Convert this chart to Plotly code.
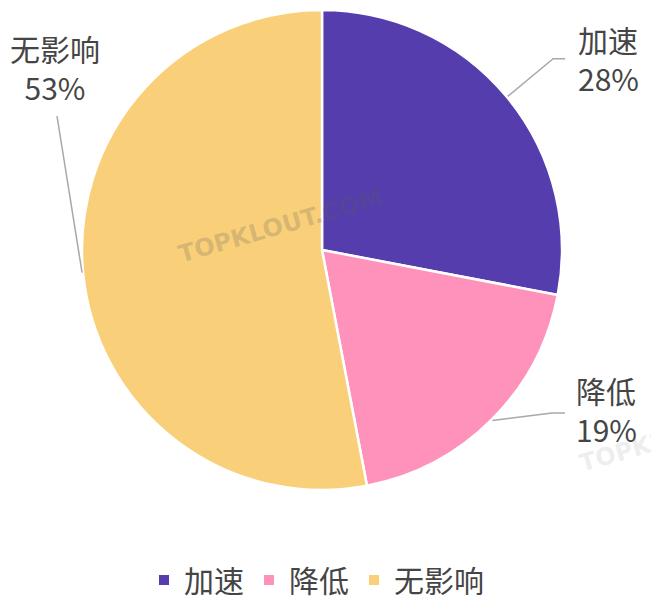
import math
import plotly.graph_objects as go

# ---- data ----
categories = ["加速", "降低", "无影响"]
values = [28, 19, 53]
colors = ["#553DAD", "#FF92BB", "#F9D079"]

# ---- layout constants (pixels) ----
W, H = 651, 596
CX, CY, R = 322, 250, 240
FONT = "Noto Sans CJK SC, Noto Sans, sans-serif"
TXT = "#454545"

def px(x):
    return x / W

def py(y):
    return 1 - y / H

fig = go.Figure()
fig.add_trace(go.Pie(
    labels=categories,
    values=values,
    marker=dict(colors=colors, line=dict(color="white", width=2.5)),
    sort=False,
    direction="clockwise",
    rotation=0,
    textinfo="none",
    hoverinfo="label+percent",
    domain=dict(x=[px(CX - R), px(CX + R)], y=[py(CY + R), py(CY - R)]),
))

# label layout: elbow point, end of horizontal segment, text anchor
label_style = [
    dict(elbow=None, length2=12, text=(576, 58), xanchor="left", align="left"),
    dict(elbow=(552, 413), length2=13, text=(574, 410), xanchor="left", align="left"),
    dict(elbow=(57, 116), length2=0, text=(55, 67), xanchor="center", align="center"),
]

total = sum(values)
cum = 0
shapes = []
annotations = []
for cat, v, st in zip(categories, values, label_style):
    mid = (cum + v / 2) / total * 2 * math.pi
    cum += v
    sx = CX + (R + 1) * math.sin(mid)
    sy = CY - (R + 1) * math.cos(mid)
    if st["elbow"] is None:
        ex = CX + 300 * math.sin(mid)
        ey = CY - 300 * math.cos(mid)
    else:
        ex, ey = st["elbow"]
    path = f"M {px(sx)},{py(sy)} L {px(ex)},{py(ey)}"
    if st["length2"]:
        path += f" L {px(ex + st['length2'])},{py(ey)}"
    shapes.append(dict(type="path", xref="paper", yref="paper", path=path,
                       line=dict(color="#A8A8A8", width=1.5)))
    pct = round(v / total * 100)
    tx, ty = st["text"]
    annotations.append(dict(
        x=px(tx), y=py(ty), xref="paper", yref="paper",
        text=f"{cat}<br>{pct}%", showarrow=False,
        xanchor=st["xanchor"], yanchor="middle", align=st["align"],
        font=dict(family=FONT, size=30, color=TXT),
    ))

# faint watermarks
annotations.append(dict(x=px(280), y=py(226), xref="paper", yref="paper",
                        text="<b>TOPKLOUT.COM</b>", showarrow=False, textangle=-16,
                        font=dict(family="DejaVu Sans, sans-serif", size=24,
                                  color="rgba(90,90,90,0.22)")))
annotations.append(dict(x=px(574), y=py(480), xref="paper", yref="paper",
                        text="<b>TOPKLOUT.COM</b>", showarrow=False, textangle=-16,
                        xanchor="left",
                        font=dict(family="DejaVu Sans, sans-serif", size=24,
                                  color="rgba(120,120,120,0.15)")))

fig.update_layout(
    width=W, height=H,
    margin=dict(l=0, r=0, t=0, b=0, autoexpand=False),
    paper_bgcolor="white", plot_bgcolor="white",
    shapes=shapes, annotations=annotations,
    showlegend=True,
    legend=dict(orientation="h", x=0.5 - 9 / W, xanchor="center", y=py(580), yanchor="middle",
                font=dict(family=FONT, size=30, color=TXT),
                itemsizing="constant", itemwidth=30, tracegroupgap=0,
                bgcolor="rgba(0,0,0,0)"),
    font=dict(family=FONT),
)

fig.write_html("out.html", config={"displayModeBar": False},
               post_script="document.body.style.margin='0';document.body.style.overflow='hidden';")
